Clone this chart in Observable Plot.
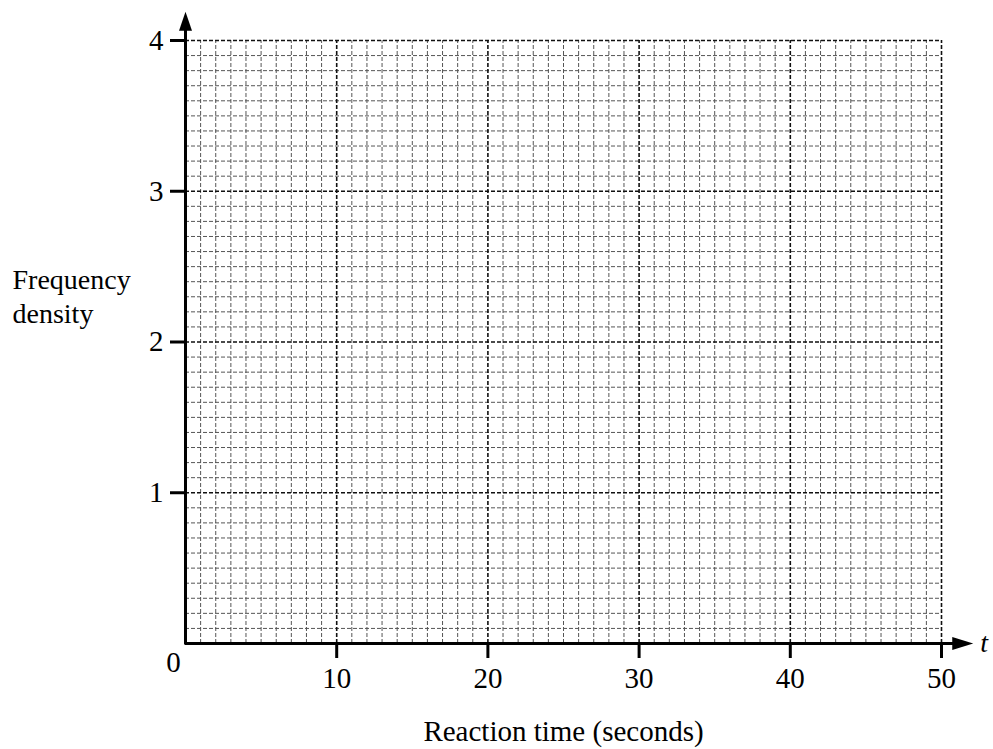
<!DOCTYPE html>
<html>
<head>
<meta charset="utf-8">
<script src="https://cdn.jsdelivr.net/npm/d3@7"></script>
<script src="https://cdn.jsdelivr.net/npm/@observablehq/plot@0.6"></script>
<style>
  html, body { margin: 0; padding: 0; background: #fff; }
  svg text { font-family: 'Liberation Serif', 'Times New Roman', serif; }
</style>
</head>
<body>
<div id="chart"></div>
<script>
// Axis ticks and labels
const xMajorTicks = [10, 20, 30, 40, 50];
const yMajorTicks = [1, 2, 3, 4];
const xMinorLines = [1,2,3,4,5,6,7,8,9,11,12,13,14,15,16,17,18,19,21,22,23,24,25,26,27,28,29,31,32,33,34,35,36,37,38,39,41,42,43,44,45,46,47,48,49];
const yMinorLines = [0.1,0.2,0.3,0.4,0.5,0.6,0.7,0.8,0.9,
  1.1,1.2,1.3,1.4,1.5,1.6,1.7,1.8,1.9,
  2.1,2.2,2.3,2.4,2.5,2.6,2.7,2.8,2.9,
  3.1,3.2,3.3,3.4,3.5,3.6,3.7,3.8,3.9];
const xLabel = "Reaction time (seconds)";
const yLabel = "Frequency\ndensity";
const xAxisName = "t";
const originLabel = "0";

const serif = "'Liberation Serif', 'Times New Roman', serif";
const arrowUp = {draw(ctx) { ctx.moveTo(0, 0); ctx.lineTo(-6.5, 19); ctx.lineTo(6.5, 19); ctx.closePath(); }};
const arrowRight = {draw(ctx) { ctx.moveTo(0, 0); ctx.lineTo(-21, -6.5); ctx.lineTo(-21, 6.5); ctx.closePath(); }};

const chart = Plot.plot({
  width: 993,
  height: 749,
  marginLeft: 185,
  marginRight: 52,
  marginTop: 40,
  marginBottom: 106,
  x: {domain: [0, 50]},
  y: {domain: [0, 4]},
  style: {fontFamily: serif, background: "#fff", color: "#000"},
  marks: [
    // minor grid
    Plot.ruleX(xMinorLines, {x: d => d, y1: 0, y2: 4, stroke: "#555", strokeWidth: 1, strokeDasharray: "4,2"}),
    Plot.ruleY(yMinorLines, {y: d => d, x1: 0, x2: 50, stroke: "#555", strokeWidth: 1, strokeDasharray: "4,2"}),
    // major grid
    Plot.ruleX(xMajorTicks, {x: d => d, y1: 0, y2: 4, stroke: "#111", strokeWidth: 1.6, strokeDasharray: "4,2"}),
    Plot.ruleY(yMajorTicks, {y: d => d, x1: 0, x2: 50, stroke: "#111", strokeWidth: 1.6, strokeDasharray: "4,2"}),
    // axis lines
    Plot.ruleY([0], {x1: 0, x2: 50.8, stroke: "#000", strokeWidth: 3}),
    Plot.ruleX([0], {y1: -0.01, y2: 4.08, stroke: "#000", strokeWidth: 3}),
    // arrowheads
    Plot.dot([0], {x: 0, y: 4.19, symbol: arrowUp, fill: "#000", stroke: null}),
    Plot.dot([0], {x: 52.1, y: 0, symbol: arrowRight, fill: "#000", stroke: null}),
    // axes
    Plot.axisX(xMajorTicks, {anchor: "bottom", tickSize: 15, tickPadding: 9, strokeWidth: 3, fontSize: 29, fontFamily: serif, tickFormat: d3.format("d"), label: null}),
    Plot.axisY(yMajorTicks, {anchor: "left", tickSize: 15, tickPadding: 7, strokeWidth: 3, fontSize: 29, fontFamily: serif, tickFormat: d3.format("d"), label: null}),
    // origin label
    Plot.text([originLabel], {x: 0, y: 0, dx: -12, dy: 19, fontSize: 29, fontFamily: serif, fill: "#000"}),
    // t label
    Plot.text([xAxisName], {x: 52.1, y: 0, dx: 7, textAnchor: "start", fontSize: 28, fontFamily: serif, fontStyle: "italic", fill: "#000"}),
    // axis titles
    Plot.text([xLabel], {frameAnchor: "bottom", dy: 88, lineAnchor: "middle", fontSize: 29, fontFamily: serif, fill: "#000"}),
    Plot.text([yLabel], {frameAnchor: "left", dx: -173, dy: -47, textAnchor: "start", lineAnchor: "middle", lineHeight: 1.21, fontSize: 28, fontFamily: serif, fill: "#000"})
  ]
});
document.getElementById("chart").appendChild(chart);
</script>
</body>
</html>
